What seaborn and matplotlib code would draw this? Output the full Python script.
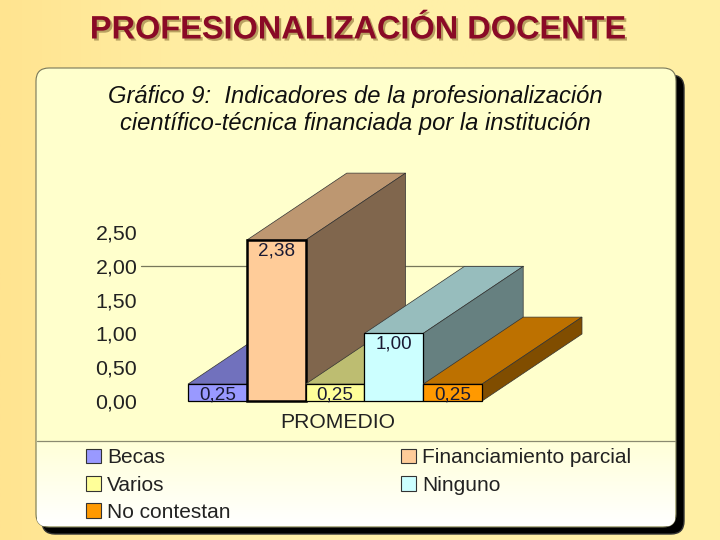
import numpy as np
import pandas as pd
import matplotlib
matplotlib.use("Agg")
import matplotlib.pyplot as plt
import matplotlib.patheffects as pe
from matplotlib.colors import to_rgb, LinearSegmentedColormap
from matplotlib.patches import FancyBboxPatch, Patch, Polygon
import seaborn as sns

categories = ["Becas", "Financiamiento parcial", "Varios", "Ninguno", "No contestan"]
values = [0.25, 2.38, 0.25, 1.00, 0.25]
value_labels = ["0,25", "2,38", "0,25", "1,00", "0,25"]
colors = ["#9999FF", "#FFCC99", "#FFFF99", "#CCFFFF", "#FF9900"]
legend_order = [0, 2, 4, 1, 3]
y_ticks = [0, 0.5, 1, 1.5, 2, 2.5]
y_tick_labels = ["0,00", "0,50", "1,00", "1,50", "2,00", "2,50"]
title_main = "PROFESIONALIZACIÓN DOCENTE"
title_chart = "Gráfico 9:  Indicadores de la profesionalización\ncientífico-técnica financiada por la institución"
x_label = "PROMEDIO"

sns.set_theme(style="white")
plt.rcParams["font.family"] = ["Liberation Sans", "DejaVu Sans"]

W, H = 720, 540
fig = plt.figure(figsize=(W / 100, H / 100), dpi=100)

# decoration layer in pixel coordinates
bg = fig.add_axes([0, 0, 1, 1], zorder=0)
bg.set_xlim(0, W)
bg.set_ylim(H, 0)
bg.axis("off")
page = LinearSegmentedColormap.from_list("page", ["#FFE490", "#FFF0A8", "#FFF0A8", "#FFEFA4"])
bg.imshow(np.linspace(0, 1, 256)[None, :], extent=[0, W, H, 0], cmap=page, aspect="auto", zorder=0)

rs = "round,pad=0,rounding_size=13"
bg.add_patch(FancyBboxPatch((42, 75), 642, 459, boxstyle=rs, fc="#000000", ec="#333333", lw=1, zorder=1))
panel = FancyBboxPatch((36, 68), 640, 459, boxstyle=rs, fc="#FFFFCC", ec="#77775A", lw=0.8, zorder=2)
bg.add_patch(panel)
leg_cm = LinearSegmentedColormap.from_list("leg", ["#FFFFD8", "#FFFFFF"])
im = bg.imshow(np.linspace(0, 1, 64)[:, None], extent=[37, 675, 526, 441], cmap=leg_cm, aspect="auto", zorder=3)
im.set_clip_path(panel)
bg.plot([37, 675], [441, 441], color="#8A8A70", lw=0.9, zorder=4)
bg.set_xlim(0, W)
bg.set_ylim(H, 0)

fig.text(358 / W, 1 - 30.5 / H, title_main, ha="center", va="center", fontsize=23.4, fontweight="bold",
         color="#8A0A26",
         path_effects=[pe.withSimplePatchShadow(offset=(1.5, -1.5), shadow_rgbFace="#B8A060", alpha=1)])
fig.text(355.5 / W, 1 - 110 / H, title_chart, ha="center", va="center", fontsize=17.1, style="italic",
         color="#101010", linespacing=1.24)

# chart: axes spans the front plane of the bars
ax = fig.add_axes([188 / W, 1 - 401 / H, 294 / W, 169 / H], zorder=1)
ax.patch.set_alpha(0)
df = pd.DataFrame({"categoria": categories, "valor": values})
sns.barplot(data=df, x="categoria", y="valor", hue="categoria", order=categories, hue_order=categories,
            palette=colors, saturation=1, width=1, dodge=False, legend=False,
            edgecolor="black", linewidth=0.9, ax=ax)
ax.set_xlim(-0.5, 4.5)
ax.set_ylim(0, 2.5)
ax.set_yticks(y_ticks, y_tick_labels)
ax.tick_params(axis="y", length=0, pad=36.5, labelsize=15.4, labelcolor="#222222")
ax.set_xticks([])
ax.set_xlabel(x_label, fontsize=15.2, color="#222222", labelpad=9, x=0.51)
ax.set_ylabel("")
sns.despine(ax=ax, left=True, bottom=True)

# depth of the extrusion, in axis units (bar widths, value units)
DX, DY = 100 / 58.8, 67 / 67.6


def shade(c, f):
    return tuple(v * f for v in to_rgb(c))


ax.plot([-1.3, 5.19], [2, 2], color="#77775A", lw=0.9, zorder=1, clip_on=False)

for i, (v, c, lab) in enumerate(zip(values, colors, value_labels)):
    l, r = i - 0.5, i + 0.5
    z = 10 + 3 * i
    ax.add_patch(Polygon([(l, v), (r, v), (r + DX, v + DY), (l + DX, v + DY)], closed=True,
                         fc=shade(c, 0.74), ec="#333333", lw=0.5, zorder=z, clip_on=False))
    ax.add_patch(Polygon([(r, 0), (r, v), (r + DX, v + DY), (r + DX, DY)], closed=True,
                         fc=shade(c, 0.5), ec="#333333", lw=0.5, zorder=z, clip_on=False))
    ax.annotate(lab, (i, v), xytext=(0, -7.8), textcoords="offset points", ha="center", va="center",
                fontsize=13.6, color="#1A1A33", zorder=z + 2, annotation_clip=False)

# barplot's bars come in hue order; raise each front over the depth faces
bars = [p for cont in ax.containers for p in cont]
for i, p in enumerate(bars):
    p.set_zorder(11 + 3 * i)
    p.set_linewidth(1.8 if values[i] > 2 else 0.9)
    p.set_clip_on(False)

handles = [Patch(fc=colors[k], ec="#333333", lw=0.8, label=categories[k]) for k in legend_order]
fig.legend(handles=handles, ncol=2, loc="lower left", bbox_to_anchor=(86 / W, 1 - 522 / H), frameon=False,
           fontsize=15, handlelength=0.72, handleheight=0.72, handletextpad=0.29, columnspacing=8.2,
           labelspacing=0.4, labelcolor="#222222", borderpad=0, borderaxespad=0)

fig.savefig("out.png", dpi=100)
